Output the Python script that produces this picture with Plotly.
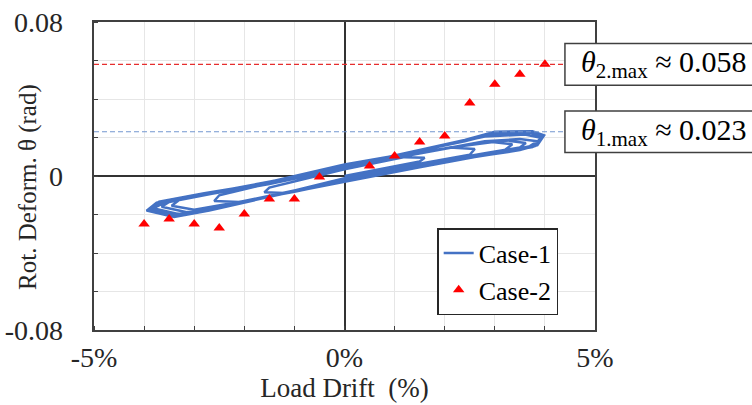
import plotly.graph_objects as go

# Case-1: cyclic test record, drift (%) vs rotational deformation (rad)
case1_drift = [
    0.0, 0.8, 1.5, 1.6, 1.2, 0.0, -0.8, -1.5, -1.6, -1.2, 0.0,
    1.0, 2.5, 2.6, 2.1, 1.0, 0.0, -1.2, -2.5, -2.6, -2.1, -1.0, 0.0,
    1.2, 2.5, 3.2, 3.35, 2.9, 1.8, 0.0, -1.5, -2.8, -3.3, -3.45, -3.0, -2.0, -0.8, 0.0,
    1.5, 2.8, 3.5, 3.62, 3.2, 2.2, 1.0, 0.0, -1.2, -2.6, -3.5, -3.65, -3.15, -2.2, -1.0, 0.0,
    1.5, 2.4, 3.3, 3.77, 3.97, 3.75, 3.0, 2.4, 1.5, 0.5, 0.0, -1.4, -2.8, -3.7, -3.93, -3.4, -2.4, -1.4, 0.0,
    1.5, 2.5, 3.4, 3.7, 3.85, 3.5, 2.8, 1.5, 0.0, -1.5, -3.0, -3.6, -3.82, -3.3, -2.5, -1.0, 0.0,
    1.5, 2.6, 3.5, 3.85, 3.98, 3.6, 3.1, 2.3, 1.0, 0.0, -1.4, -2.9, -3.75, -3.95, -3.4, -2.7, -1.5, 0.0,
    1.5, 3.0, 3.75, 3.92, 3.6, 2.8, 2.0, 0.8, 0.0, -1.5, -3.0, -3.75, -3.88, -3.45, -2.6, -1.2, 0.0,
    1.5, 3.2, 3.8, 3.95, 3.7, 3.0, 2.4, 1.2, 0.0, -1.5, -3.0, -3.72, -3.9, -3.35, -2.0, -0.8, 0.0, 1.0,
]
case1_theta = [
    0.0, 0.0040, 0.0075, 0.0095, 0.0098, 0.0035, -0.0015, -0.0060, -0.0085, -0.0088, -0.0012,
    0.0040, 0.0110, 0.0140, 0.0148, 0.0095, 0.0045, -0.0020, -0.0100, -0.0130, -0.0135, -0.0075, -0.0015,
    0.0045, 0.0100, 0.0135, 0.0165, 0.0178, 0.0135, 0.0050, -0.0030, -0.0098, -0.0125, -0.0155, -0.0175, -0.0130, -0.0070, -0.0025,
    0.0058, 0.0118, 0.0148, 0.0172, 0.0185, 0.0150, 0.0092, 0.0045, -0.0020, -0.0088, -0.0135, -0.0160, -0.0188, -0.0140, -0.0082, -0.0028,
    0.0048, 0.0092, 0.0126, 0.0152, 0.0213, 0.0232, 0.0230, 0.0187, 0.0135, 0.0078, 0.0055, -0.0030, -0.0090, -0.0133, -0.0177, -0.0211, -0.0159, -0.0099, -0.0020,
    0.0055, 0.0102, 0.0138, 0.0155, 0.0180, 0.0192, 0.0180, 0.0118, 0.0040, -0.0042, -0.0108, -0.0140, -0.0168, -0.0198, -0.0158, -0.0080, -0.0030,
    0.0045, 0.0098, 0.0135, 0.0160, 0.0210, 0.0228, 0.0226, 0.0178, 0.0105, 0.0060, -0.0025, -0.0095, -0.0138, -0.0180, -0.0213, -0.0180, -0.0108, -0.0025,
    0.0052, 0.0118, 0.0150, 0.0198, 0.0215, 0.0205, 0.0162, 0.0095, 0.0050, -0.0035, -0.0100, -0.0145, -0.0172, -0.0203, -0.0170, -0.0092, -0.0022,
    0.0050, 0.0125, 0.0155, 0.0205, 0.0225, 0.0220, 0.0180, 0.0115, 0.0052, -0.0033, -0.0105, -0.0138, -0.0175, -0.0205, -0.0135, -0.0068, -0.0018, 0.0030,
]

# Case-2: peak values per drift step
case2_drift = [-4.0, -3.5, -3.0, -2.5, -2.0, -1.5, -1.0, -0.5,
               0.5, 1.0, 1.5, 2.0, 2.5, 3.0, 3.5, 4.0]
case2_theta = [-0.0249, -0.0223, -0.0249, -0.0270, -0.0197, -0.0119, -0.0119, -0.0005,
               0.0052, 0.0104, 0.0176, 0.0208, 0.0379, 0.0477, 0.0529, 0.058]

theta1_max = 0.023
theta2_max = 0.058

x_tickvals = [-5, 0, 5]
x_ticktext = ["-5%", "0%", "5%"]
y_tickvals = [-0.08, 0, 0.08]
y_ticktext = ["-0.08", "0", "0.08"]

FONT = "Liberation Serif, Times New Roman, serif"
AXIS_COLOR = "#404040"
GRID_COLOR = "#e6e6e6"
TEXT_COLOR = "#262626"
PAD = "\u2009"  # thin space keeps the y labels clear of the axis

fig = go.Figure()

fig.add_trace(go.Scatter(
    x=case1_drift, y=case1_theta, mode="lines", name="Case-1",
    line=dict(color="#4472C4", width=2.5),
))
fig.add_trace(go.Scatter(
    x=case2_drift, y=case2_theta, mode="markers", name="Case-2",
    marker=dict(symbol="triangle-up", color="#ff0000", size=10),
))

# reference lines for the maximum rotations
fig.add_shape(type="line", xref="x", yref="y", x0=-5, x1=5, y0=theta2_max, y1=theta2_max,
              line=dict(color="#e62e2e", width=1.2, dash="5px,3px"), layer="above")
fig.add_shape(type="line", xref="x", yref="y", x0=-5, x1=5, y0=theta1_max, y1=theta1_max,
              line=dict(color="#7396d0", width=1.2, dash="5px,3px"), layer="above")

# callout boxes
for val, sub in [(theta2_max, "2.max"), (theta1_max, "1.max")]:
    fig.add_shape(type="rect", xref="paper", yref="y", x0=0.940, x1=1.40,
                  y0=val - 0.0108, y1=val + 0.0108,
                  line=dict(color=AXIS_COLOR, width=1.5), fillcolor="white", layer="above")
    fig.add_annotation(xref="paper", yref="y", x=0.968, y=val, xanchor="left", yanchor="middle",
                       text=f"<i>θ</i><sub>{sub}</sub> ≈ {val:.3f}", showarrow=False,
                       font=dict(family=FONT, size=30, color="black"))

# vertical axis title
fig.add_annotation(xref="paper", yref="paper", x=-0.132, y=0.464, xanchor="center", yanchor="middle",
                   text="Rot. Deform. θ (rad)", textangle=-90, showarrow=False,
                   font=dict(family=FONT, size=25, color=TEXT_COLOR))

axis_common = dict(
    showline=True, linecolor=AXIS_COLOR, linewidth=1.5, mirror=True,
    zeroline=True, zerolinecolor="#333333", zerolinewidth=1.5,
    showgrid=False, tickfont=dict(family=FONT, size=28, color=TEXT_COLOR),
)

fig.update_xaxes(
    range=[-5, 5], tickmode="array", tickvals=x_tickvals, ticktext=x_ticktext,
    ticks="outside", ticklen=2, tickcolor="rgba(0,0,0,0)",
    minor=dict(dtick=1, ticks="inside", ticklen=4, tickcolor=AXIS_COLOR,
               showgrid=True, gridcolor=GRID_COLOR, gridwidth=1),
    title=dict(text="Load Drift  (%)", font=dict(family=FONT, size=27, color=TEXT_COLOR), standoff=2),
    **axis_common,
)
fig.update_yaxes(
    range=[-0.08, 0.08], tickmode="array", tickvals=y_tickvals,
    ticktext=[t + PAD for t in y_ticktext],
    ticks="outside", ticklen=18, tickcolor="rgba(0,0,0,0)",
    minor=dict(dtick=0.02, ticks="inside", ticklen=4, tickcolor=AXIS_COLOR,
               showgrid=True, gridcolor=GRID_COLOR, gridwidth=1),
    **axis_common,
)

fig.update_layout(
    width=752, height=405,
    margin=dict(l=94, r=157, t=22, b=75, autoexpand=False),
    paper_bgcolor="white", plot_bgcolor="white",
    font=dict(family=FONT, color="black"),
    showlegend=True,
    legend=dict(x=0.685, y=0.331, xanchor="left", yanchor="top",
                bgcolor="white", bordercolor=TEXT_COLOR, borderwidth=1.5,
                font=dict(family=FONT, size=26, color="black"),
                itemwidth=30, tracegroupgap=0),
)

fig.write_html("out.html")
